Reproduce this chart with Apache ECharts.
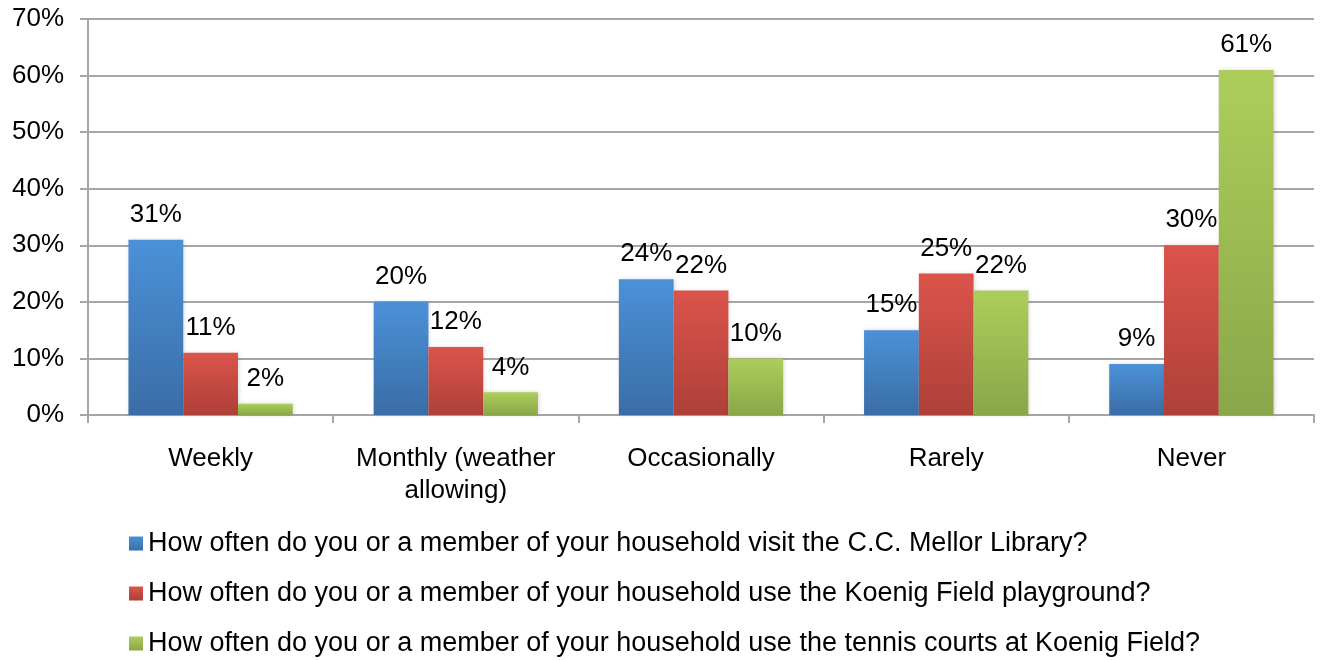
<!DOCTYPE html>
<html style="height: 100%">

<head>
    <meta charset="utf-8">
</head>

<body style="height: 100%; margin: 0; background: #fff">
    <div id="container" style="width: 1321px; height: 660px"></div>
    <script src="https://cdn.jsdelivr.net/npm/echarts@6/dist/echarts.min.js"></script>
    <script type="text/javascript">
        var categories = ['Weekly', 'Monthly (weather\nallowing)', 'Occasionally', 'Rarely', 'Never'];
        var seriesNames = [
            'How often do you or a member of your household visit the C.C. Mellor Library?',
            'How often do you or a member of your household use the Koenig Field playground?',
            'How often do you or a member of your household use the tennis courts at Koenig Field?'
        ];
        var library = [31, 20, 24, 15, 9];
        var playground = [11, 12, 22, 25, 30];
        var tennis = [2, 4, 10, 22, 61];
        var yTicks = [0, 10, 20, 30, 40, 50, 60, 70];

        var colors = [
            ['#4b91d8', '#3a6da6'],
            ['#db544b', '#ae4038'],
            ['#adcd5b', '#89a749']
        ];

        function grad(c) {
            return new echarts.graphic.LinearGradient(0, 0, 0, 1, [
                { offset: 0, color: c[0] },
                { offset: 1, color: c[1] }
            ]);
        }

        var font = 'Liberation Sans, Arial, sans-serif';
        var fs = 26;
        var values = [library, playground, tennis];

        var series = values.map(function(v, i) {
            return {
                name: seriesNames[i],
                type: 'bar',
                data: v,
                barGap: '0%',
                barCategoryGap: '33%',
                itemStyle: {
                    color: grad(colors[i]),
                    shadowBlur: 4,
                    shadowColor: 'rgba(0,0,0,0.15)',
                    shadowOffsetX: 1
                },
                label: {
                    show: true,
                    position: 'top',
                    distance: 12,
                    formatter: '{c}%',
                    color: '#000',
                    fontSize: fs,
                    fontFamily: font
                }
            };
        });

        var myChart = echarts.init(document.getElementById('container'));
        var option = {
            animation: false,
            color: colors.map(function(c) { return grad(c); }),
            grid: { left: 88, right: 7, top: 19, bottom: 245 },
            legend: {
                orient: 'vertical',
                left: 129,
                top: 530,
                width: 1180,
                height: 140,
                padding: 0,
                itemWidth: 14,
                itemHeight: 14,
                itemGap: 23,
                icon: 'rect',
                textStyle: { fontSize: 27, color: '#000', fontFamily: font },
                data: seriesNames
            },
            xAxis: {
                type: 'category',
                data: categories,
                axisLine: { lineStyle: { color: '#a6a6a6', width: 2 } },
                axisTick: { show: true, length: 8, lineStyle: { color: '#a6a6a6', width: 2 } },
                axisLabel: {
                    color: '#000',
                    fontSize: fs,
                    fontFamily: font,
                    margin: 28,
                    lineHeight: 32,
                    interval: 0
                }
            },
            yAxis: {
                type: 'value',
                min: yTicks[0],
                max: yTicks[yTicks.length - 1],
                interval: 10,
                axisLine: { show: true, lineStyle: { color: '#a6a6a6', width: 2 } },
                axisTick: { show: true, length: 8, lineStyle: { color: '#a6a6a6', width: 2 } },
                splitLine: { lineStyle: { color: '#a6a6a6', width: 2 } },
                axisLabel: {
                    color: '#000',
                    fontSize: fs,
                    fontFamily: font,
                    margin: 24,
                    formatter: '{value}%'
                }
            },
            series: series
        };

        myChart.setOption(option);
    </script>
</body>

</html>
